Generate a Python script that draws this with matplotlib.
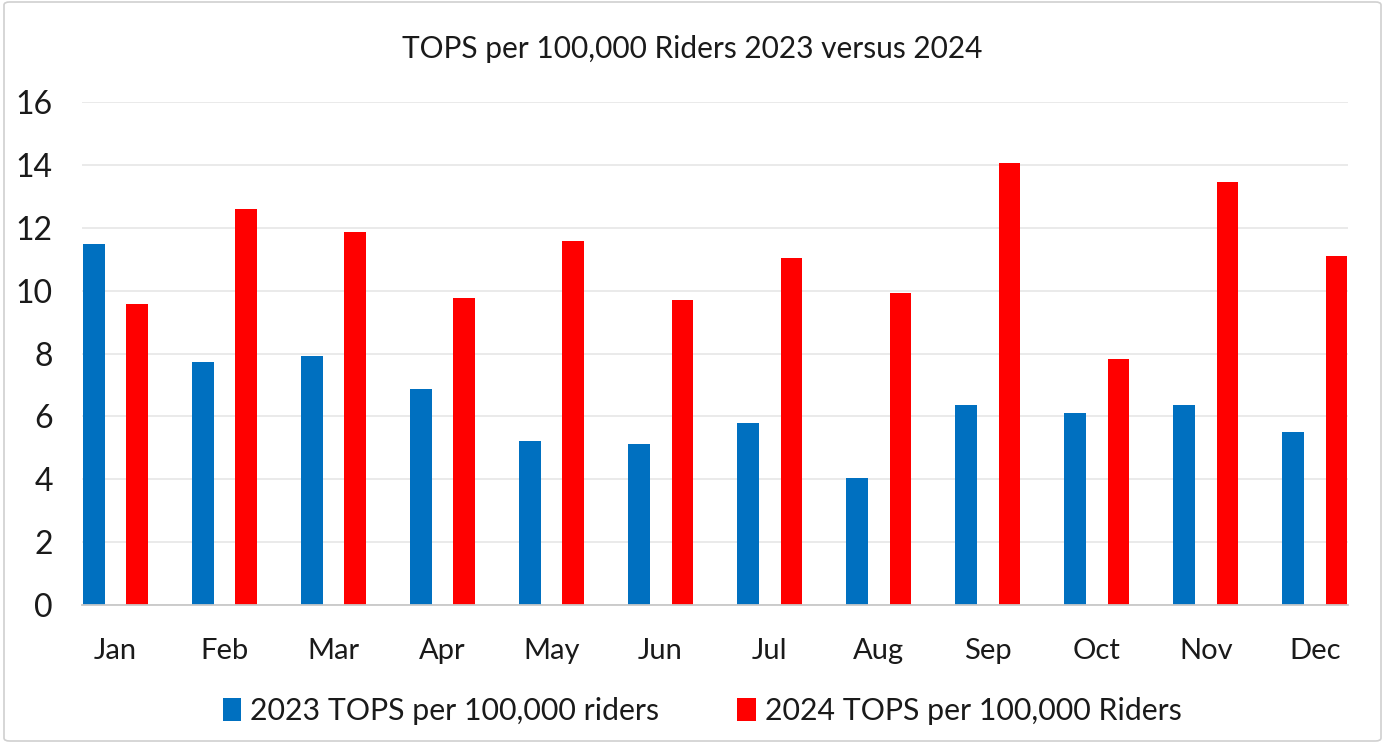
import matplotlib
matplotlib.use("Agg")
import matplotlib.pyplot as plt
import numpy as np
from matplotlib.patches import FancyBboxPatch

months = ["Jan", "Feb", "Mar", "Apr", "May", "Jun", "Jul", "Aug", "Sep", "Oct", "Nov", "Dec"]
tops_2023 = [11.50, 7.73, 7.94, 6.87, 5.23, 5.13, 5.78, 4.05, 6.38, 6.11, 6.38, 5.50]
tops_2024 = [9.57, 12.59, 11.87, 9.77, 11.57, 9.71, 11.05, 9.93, 14.06, 7.82, 13.47, 11.12]
label_2023 = "2023 TOPS per 100,000 riders"
label_2024 = "2024 TOPS per 100,000 Riders"
title = "TOPS per 100,000 Riders 2023 versus 2024"
yticks = [0, 2, 4, 6, 8, 10, 12, 14, 16]

plt.rcParams['font.family'] = ['Lato', 'DejaVu Sans']

W, H = 1385, 743
fig = plt.figure(figsize=(W / 100, H / 100), dpi=100)
fig.patch.set_facecolor("white")

# outer chart border
border = FancyBboxPatch((4 / W, 2 / H), (W - 8) / W, (H - 4) / H,
                        boxstyle="round,pad=0,rounding_size=0.004",
                        transform=fig.transFigure, fill=False,
                        edgecolor="#d0d0d0", linewidth=1.2)
fig.patches.append(border)

ax = fig.add_axes([82 / W, 1 - 605 / H, (1347.5 - 82) / W, (605 - 102.3) / H])
x = np.arange(len(months))
w = 0.2
ax.bar(x - 0.197, tops_2023, width=w, color="#0070C0", label=label_2023, zorder=3)
ax.bar(x + 0.2, tops_2024, width=w, color="#FF0000", label=label_2024, zorder=3)

ax.set_xlim(-0.307, 11.30)
ax.set_ylim(0, 16)
ax.set_yticks(yticks)
ax.set_xticks(x)
ax.set_xticklabels(months)
ax.tick_params(axis="both", length=0, colors="#1a1a1a")
ax.tick_params(axis="x", labelsize=21, pad=24)
ax.tick_params(axis="y", labelsize=23, pad=21)
ax.grid(axis="y", color="#e8e8e8", linewidth=1.3, zorder=0)
for s in ["top", "right", "left"]:
    ax.spines[s].set_visible(False)
ax.spines["bottom"].set_color("#c8c8c8")
ax.spines["bottom"].set_linewidth(1.3)
ax.spines["bottom"].set_zorder(4)

fig.text(0.5, 1 - 49 / H, title, ha="center", va="center", fontsize=21.5, color="#1a1a1a")

fig.legend(loc="center", bbox_to_anchor=(702 / W, 1 - 711 / H), ncol=2, frameon=False,
           fontsize=21.8, handlelength=0.6, handleheight=0.75, handletextpad=0.3,
           columnspacing=2.6, labelcolor="#1a1a1a")

fig.savefig("out.png", dpi=100, facecolor="white")
